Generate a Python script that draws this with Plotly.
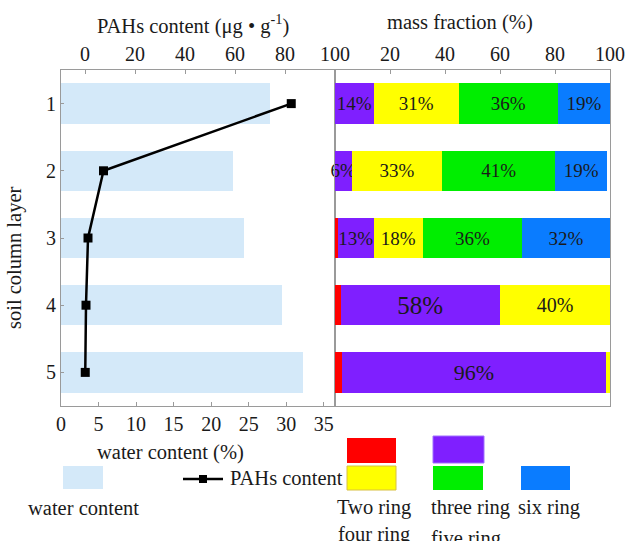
import plotly.graph_objects as go

W, H = 629, 541

# ---- data -------------------------------------------------------------
layers = [1, 2, 3, 4, 5]
water_content = [27.8, 22.9, 24.4, 29.5, 32.2]      # %
pahs_content = [82.5, 7.4, 1.2, 0.4, 0.1]            # ug/g

two_ring = [0, 0, 1, 2, 2.5]
three_ring = [14, 6, 13, 58, 96]
four_ring = [31, 33, 18, 40, 1.5]
five_ring = [36, 41, 36, 0, 0]
six_ring = [19, 19, 32, 0, 0]

ring_series = [
    ("Two ring", two_ring, "#ff0000"),
    ("three ring", three_ring, "#7f1fff"),
    ("four ring", four_ring, "#ffff00"),
    ("five ring", five_ring, "#00ee00"),
    ("six ring", six_ring, "#0a7cff"),
]

water_ticks = [0, 5, 10, 15, 20, 25, 30, 35]
pahs_ticks = [0, 20, 40, 60, 80, 100]
fraction_ticks = [20, 40, 60, 80, 100]

# ---- styling helpers --------------------------------------------------
FONT = "Liberation Serif"
TXT = "#1a1a1a"
GRID = "#9a9a9a"


def px(x):
    return x / W


def py(y):
    return 1 - y / H


left_dom = [px(61), px(335)]
right_dom = [px(335), px(610)]
y_dom = [py(406), py(70)]

fig = go.Figure()

# water content bars (left panel, bottom axis)
fig.add_trace(go.Bar(
    x=water_content, y=layers, orientation="h", width=0.6,
    marker=dict(color="#d4e9f9", line=dict(width=0)),
    xaxis="x", yaxis="y", showlegend=False, hoverinfo="x+y",
))

# PAHs content line (left panel, top axis)
fig.add_trace(go.Scatter(
    x=pahs_content, y=layers, mode="lines+markers",
    line=dict(color="black", width=2.5),
    marker=dict(symbol="square", size=9, color="black"),
    xaxis="x2", yaxis="y", showlegend=False, cliponaxis=False,
))

# stacked mass fraction bars (right panel)
big_sizes = {58: 25, 96: 22, 40: 20}
for name, vals, color in ring_series:
    texts = [f"{v:g}%" if v >= 5 else " " for v in vals]
    sizes = [big_sizes.get(v, 19) for v in vals]
    fig.add_trace(go.Bar(
        x=vals, y=layers, orientation="h", width=0.6, name=name,
        marker=dict(color=color, line=dict(width=0)),
        text=texts, textposition="inside", insidetextanchor="middle",
        constraintext="none", textangle=0, cliponaxis=False,
        textfont=dict(family=FONT, color=TXT, size=sizes),
        xaxis="x3", yaxis="y2", showlegend=False,
    ))

tickfont = dict(family=FONT, size=20, color=TXT)
common = dict(showgrid=False, zeroline=False, automargin=False,
              linecolor=GRID, linewidth=1.2, tickcolor=GRID)

fig.update_layout(
    width=W, height=H,
    margin=dict(l=0, r=0, t=0, b=0),
    paper_bgcolor="white", plot_bgcolor="white",
    barmode="stack",
    xaxis=dict(
        domain=left_dom, anchor="y", range=[0, 36.5],
        tickvals=water_ticks, ticks="inside", ticklen=4,
        showline=True, tickfont=tickfont, **common,
    ),
    xaxis2=dict(
        overlaying="x", side="top", anchor="y", range=[-9.6, 100],
        tickvals=pahs_ticks, ticks="inside", ticklen=4,
        showline=True, tickfont=tickfont, **common,
    ),
    yaxis=dict(
        domain=y_dom, anchor="x", range=[5.5, 0.5],
        tickvals=layers, ticks="inside", ticklen=3,
        showline=True, mirror=True, tickfont=tickfont, **common,
    ),
    xaxis3=dict(
        domain=right_dom, anchor="y2", side="top", range=[0, 100],
        tickvals=fraction_ticks, ticks="inside", ticklen=4,
        showline=True, mirror=True, tickfont=tickfont, **common,
    ),
    yaxis2=dict(
        domain=y_dom, anchor="x3", range=[5.5, 0.5],
        showticklabels=False, ticks="",
        showline=True, mirror=True, **common,
    ),
)

label_font = dict(family=FONT, size=20.5, color=TXT)
annotations = [
    dict(x=px(193), y=py(24), text="PAHs content (μg • g<sup>-1</sup>)"),
    dict(x=px(460), y=py(23), text="mass fraction (%)"),
    dict(x=px(14), y=py(258), text="soil column layer", textangle=-90),
    dict(x=px(170), y=py(452), text="water content (%)"),
    dict(x=px(83), y=py(508), text="water content"),
    dict(x=px(228), y=py(478), text="PAHs content", xanchor="left"),
    dict(x=px(374), y=py(507), text="Two ring"),
    dict(x=px(374), y=py(534), text="four ring"),
    dict(x=px(470), y=py(507), text="three ring"),
    dict(x=px(466), y=py(538), text="five ring"),
    dict(x=px(549), y=py(507), text="six ring"),
]
for a in annotations:
    a.setdefault("xanchor", "center")
    fig.add_annotation(
        xref="paper", yref="paper", yanchor="middle", showarrow=False,
        font=label_font, **a,
    )

# legend swatches
swatches = [
    ((63, 466, 103, 489), "#d4e9f9", None),
    ((347, 438, 396, 463), ring_series[0][2], None),
    ((433, 436, 484, 463), ring_series[1][2], "#a070ff"),
    ((347, 466, 396, 490), ring_series[2][2], "#d8c040"),
    ((433, 466, 483, 490), ring_series[3][2], None),
    ((521, 466, 570, 490), ring_series[4][2], None),
]
for (x0, y0, x1, y1), col, edge in swatches:
    fig.add_shape(type="rect", xref="paper", yref="paper",
                  x0=px(x0), x1=px(x1), y0=py(y1), y1=py(y0),
                  fillcolor=col,
                  line=dict(width=1 if edge else 0, color=edge or col))

# line + marker legend sample
fig.add_shape(type="line", xref="paper", yref="paper",
              x0=px(183), x1=px(223), y0=py(479), y1=py(479),
              line=dict(color="black", width=2.5))
fig.add_shape(type="rect", xref="paper", yref="paper",
              x0=px(199), x1=px(207), y0=py(483), y1=py(475),
              fillcolor="black", line=dict(width=0))

fig.write_html("out.html")
